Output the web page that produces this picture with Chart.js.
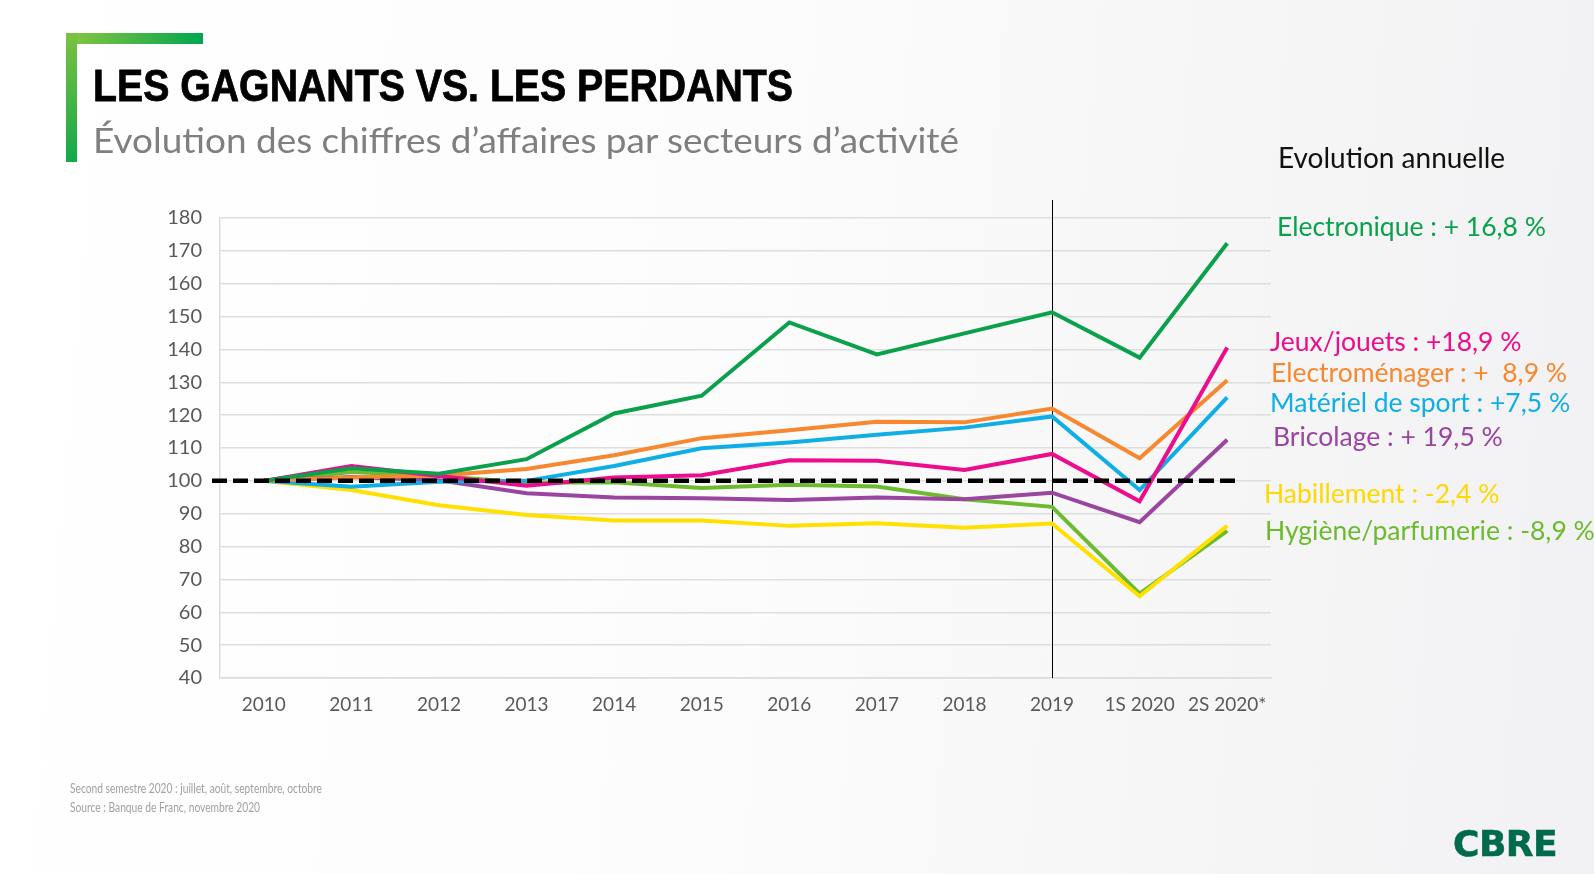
<!DOCTYPE html>
<html lang="fr">
<head>
<meta charset="utf-8">
<title>Les gagnants vs. les perdants</title>
<script src="https://cdn.jsdelivr.net/npm/chart.js@4.4.1/dist/chart.umd.min.js"></script>
<style>
  html, body { margin: 0; padding: 0; }
  body {
    width: 1594px; height: 874px; overflow: hidden; position: relative;
    background: linear-gradient(95deg, #ffffff 0%, #fcfcfc 45%, #f1f1f3 100%);
    font-family: Lato, "Open Sans", sans-serif;
  }
  #wrap { position: absolute; left: 0; top: 0; width: 1594px; height: 874px; }
  .txt { position: absolute; white-space: pre; line-height: 1; transform-origin: left center; }
  .bar-h { position: absolute; left: 66px; top: 33px; width: 137px; height: 11px;
    background: linear-gradient(90deg, #8cc63f, #00a651); }
  .bar-v { position: absolute; left: 66px; top: 33px; width: 11px; height: 129px;
    background: linear-gradient(180deg, #7cc242, #14a84a); }
  #title { left: 93px; top: 64px; font-family: "Liberation Sans", Arial, sans-serif; font-weight: 700; font-size: 44px; color: #000; -webkit-text-stroke: 0.8px #000; }
  #subtitle { left: 93px; top: 123px; font-size: 34px; color: #7f7f7f; }
  #annual { left: 1278px; top: 143px; font-size: 28px; color: #111; }
  .note { font-size: 14px; color: #a0a0a0; }
  #logo { left: 1453px; top: 826px; font-family: "DejaVu Sans", sans-serif; font-weight: 700; font-size: 36px; color: #006a4d; letter-spacing: -0.5px; -webkit-text-stroke: 0.6px #006a4d; }
  .lab { font-size: 26.5px; }
</style>
</head>
<body>
<div class="bar-h"></div>
<div class="bar-v"></div>
<div id="wrap"><canvas id="chart"></canvas></div>
<div class="txt fit" id="title" data-w="700">LES GAGNANTS VS. LES PERDANTS</div>
<div class="txt fit" id="subtitle" data-w="866">Évolution des chiffres d’affaires par secteurs d’activité</div>
<div class="txt" id="annual">Evolution annuelle</div>
<div class="txt note fit" style="left:70px;top:781px" data-w="252">Second semestre 2020 : juillet, août, septembre, octobre</div>
<div class="txt note fit" style="left:70px;top:800px" data-w="190">Source : Banque de Franc, novembre 2020</div>
<div class="txt" id="logo">CBRE</div>
<div id="labels"></div>
<script>
var categories = ["2010", "2011", "2012", "2013", "2014", "2015", "2016", "2017", "2018", "2019", "1S 2020", "2S 2020*"];

var electronique   = [100, 103.8, 102.2, 106.6, 120.5, 125.9, 148.2, 138.5, 144.9, 151.3, 137.5, 172.3];
var jeuxJouets     = [100, 104.5, 101.5, 98.5, 101.0, 101.7, 106.3, 106.1, 103.3, 108.2, 93.8, 140.6];
var electromenager = [100, 101.0, 101.6, 103.6, 107.8, 113.0, 115.4, 118.0, 117.8, 122.0, 106.9, 130.6];
var sport          = [100, 98.2, 99.7, 100.0, 104.5, 109.9, 111.7, 114.0, 116.2, 119.6, 97.2, 125.4];
var bricolage      = [100, 101.2, 100.2, 96.2, 94.9, 94.7, 94.2, 94.9, 94.4, 96.4, 87.4, 112.5];
var habillement    = [100, 97.2, 92.6, 89.6, 87.9, 87.9, 86.3, 87.1, 85.7, 87.0, 64.9, 86.3];
var hygiene        = [100, 102.7, 101.5, 99.4, 99.6, 97.8, 98.8, 98.3, 94.4, 92.1, 65.7, 84.8];

var seriesNames = ["Electronique", "Jeux/jouets", "Electroménager", "Matériel de sport", "Bricolage", "Habillement", "Hygiène/parfumerie"];
var annualChange = ["Electronique : + 16,8 %", "Jeux/jouets : +18,9 %", "Electroménager : +  8,9 %", "Matériel de sport : +7,5 %", "Bricolage : + 19,5 %", "Habillement : -2,4 %", "Hygiène/parfumerie : -8,9 %"];
var baseline = 100;
var yTicks = { min: 40, max: 180, step: 10 };

var lineColors = ["#0ba04b", "#ec0c8c", "#f7882f", "#10aee6", "#9a45a0", "#ffe000", "#6cbb2e"];
var textColors = ["#0ba04b", "#ec0c8c", "#f7882f", "#10aee6", "#9a45a0", "#ffd800", "#6cbb2e"];
// label spots on the right (left, vertical centre)
var labelPos = [[1277, 227], [1270, 342], [1271, 373], [1270, 403], [1273, 437], [1264, 494], [1265, 531]];

var allSeries = [electronique, jeuxJouets, electromenager, sport, bricolage, habillement, hygiene];

// dashed 100 line and the 2019 marker
var refLines = {
  id: "refLines",
  beforeDatasetsDraw: function (chart) {
    var c = chart.ctx, x = chart.scales.x, a = chart.chartArea;
    var px = Math.round(x.getPixelForValue(9)) + 0.5;
    c.save();
    c.strokeStyle = "#000";
    c.lineWidth = 1;
    c.beginPath();
    c.moveTo(px, a.top - 18);
    c.lineTo(px, a.bottom);
    c.stroke();
    c.restore();
  },
  afterDatasetsDraw: function (chart) {
    var c = chart.ctx, x = chart.scales.x, y = chart.scales.y, a = chart.chartArea;
    var py = y.getPixelForValue(baseline);
    c.save();
    c.strokeStyle = "#000";
    c.lineWidth = 4.5;
    c.setLineDash([15, 6]);
    c.beginPath();
    c.moveTo(a.left - 8, py);
    c.lineTo(x.getPixelForValue(categories.length - 1) + 8, py);
    c.stroke();
    c.restore();
  }
};

var datasets = allSeries.map(function (d, i) {
  return {
    label: seriesNames[i],
    data: d,
    borderColor: lineColors[i],
    backgroundColor: lineColors[i],
    borderWidth: 4,
    pointRadius: 0,
    tension: 0,
    fill: false
  };
});

var ctx = document.getElementById("chart").getContext("2d");
new Chart(ctx, {
  type: "line",
  data: { labels: categories, datasets: datasets },
  options: {
    responsive: true,
    maintainAspectRatio: false,
    animation: false,
    layout: { padding: { left: 120, top: 218, right: 323, bottom: 136 } },
    plugins: { legend: { display: false }, tooltip: { enabled: false } },
    scales: {
      x: {
        offset: true,
        grid: { display: false, drawTicks: false },
        border: { display: true, color: "#dcdcdc", width: 1.5 },
        ticks: { color: "#595959", font: { family: "Lato", size: 19 }, padding: 15, maxRotation: 0, autoSkip: false },
        afterFit: function (s) { s.height = 60; }
      },
      y: {
        min: yTicks.min,
        max: yTicks.max,
        grid: { color: "#dedede", lineWidth: 1.5, drawTicks: false },
        border: { display: true, color: "#dcdcdc", width: 1.5 },
        ticks: { stepSize: yTicks.step, color: "#595959", font: { family: "Lato", size: 20 }, padding: 18 },
        afterFit: function (s) { s.width = 100; }
      }
    }
  },
  plugins: [refLines]
});

// right-hand annual change labels
var holder = document.getElementById("labels");
annualChange.forEach(function (t, i) {
  var el = document.createElement("div");
  el.className = "txt lab";
  el.textContent = t;
  el.style.color = textColors[i];
  el.style.left = labelPos[i][0] + "px";
  el.style.top = (labelPos[i][1] - 14) + "px";
  holder.appendChild(el);
});

// squeeze condensed headings to their width
document.querySelectorAll(".fit").forEach(function (el) {
  var w = el.getBoundingClientRect().width;
  el.style.transform = "scaleX(" + (el.dataset.w / w) + ")";
});
</script>
</body>
</html>
